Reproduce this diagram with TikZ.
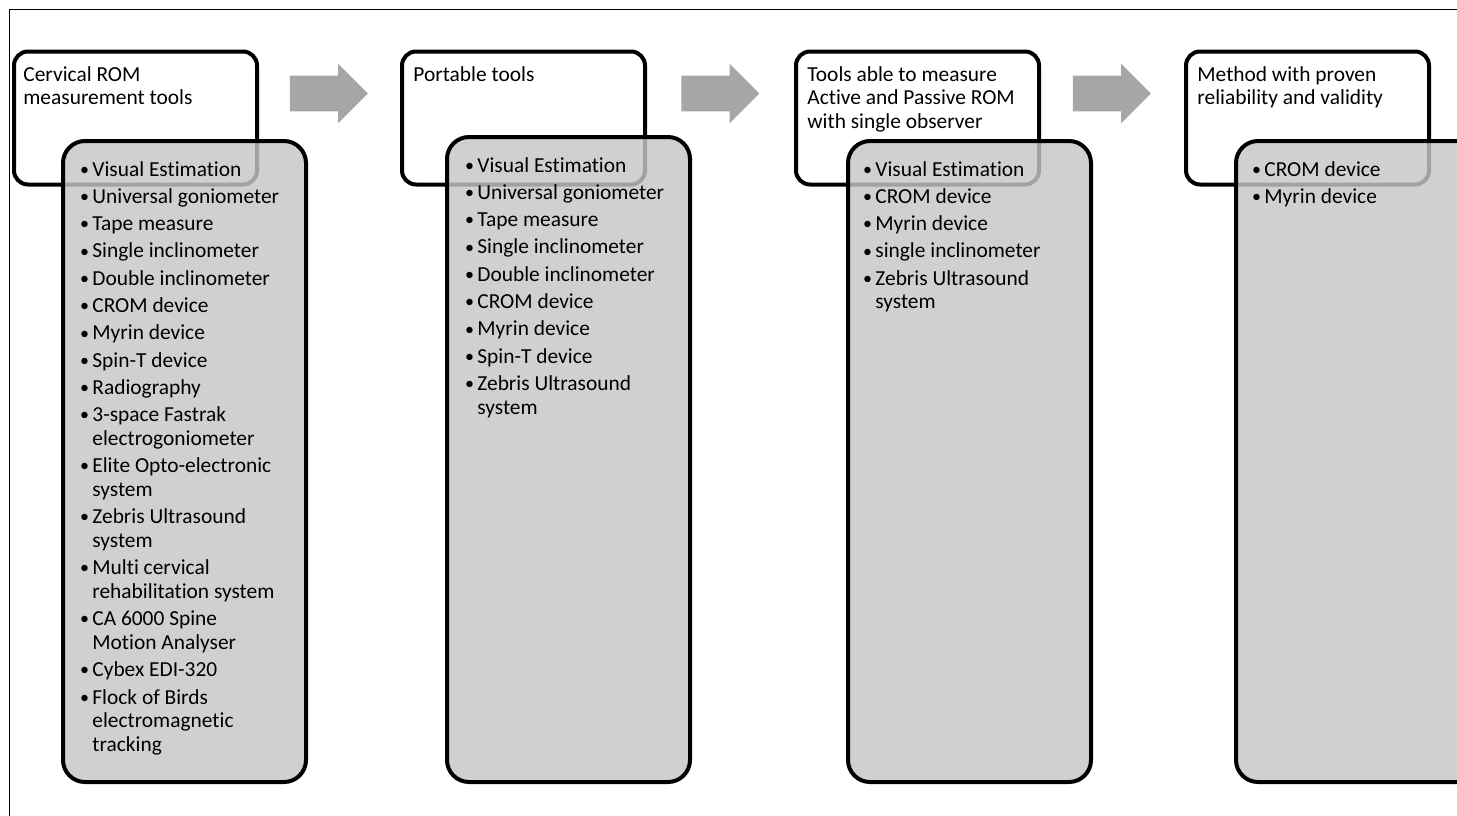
\documentclass[tikz,border=0pt]{standalone}
\usepackage{fontspec}
\setmainfont{Carlito}[Ligatures=NoCommon]
\usetikzlibrary{shapes.arrows}
\definecolor{boxgray}{RGB}{198,198,198}
\definecolor{arrgray}{RGB}{166,166,166}
\newcommand{\hdrfont}{\fontsize{10.7}{11.65}\selectfont}
\newcommand{\boxfont}{\fontsize{10.7}{11.85}\selectfont}
\newcommand{\bl}{\makebox[5pt][l]{\hspace{-1.2pt}\raisebox{0.4pt}{\fontsize{9}{9}\selectfont •}}}

\begin{document}
\begin{tikzpicture}[x=0.5pt, y=-0.5pt,
  hdr/.style={draw, line width=2pt, rounded corners=7pt, fill=white, minimum width=121.5pt, minimum height=66.5pt, anchor=north west, inner sep=0pt},
  lst/.style={draw, line width=2pt, rounded corners=11pt, fill=boxgray, fill opacity=0.82, minimum width=121.5pt, minimum height=320.5pt, anchor=north west, inner sep=0pt},
  txt/.style={anchor=base west, inner sep=0pt, font=\boxfont},
  flow/.style={single arrow, fill=arrgray, minimum height=39pt, single arrow head extend=6pt, inner sep=0pt, text height=8.75pt, text depth=8.75pt}
]
\clip (0,0) rectangle (1457,815);
\draw[line width=0.75pt] (9.5,9.5) rectangle (1500,900);
% arrows between the stages
\node (a1) [flow] at (320,93.5) {};
\node (a2) [flow] at (711.5,93.5) {};
\node (a3) [flow] at (1103,93.5) {};
% stage headers
\node (h1) [hdr] at (12,49.5) {};
\node (h2) [hdr] at (400,49.5) {};
\node (h3) [hdr] at (794,49.5) {};
\node (h4) [hdr] at (1184,49.5) {};
\node (t1) [txt, font=\hdrfont] at (23,81.5) {\begin{tabular}[t]{@{}l@{}}Cervical ROM\\measurement tools\end{tabular}};
\node (t2) [txt, font=\hdrfont] at (413,81.5) {\begin{tabular}[t]{@{}l@{}}Portable tools\end{tabular}};
\node (t3) [txt, font=\hdrfont] at (807,81.5) {\begin{tabular}[t]{@{}l@{}}Tools able to measure\\Active and Passive ROM\\with single observer\end{tabular}};
\node (t4) [txt, font=\hdrfont] at (1197,81.5) {\begin{tabular}[t]{@{}l@{}}Method with proven\\reliability and validity\end{tabular}};
% tool lists
\node (g1) [lst] at (61,139) {};
\node (g2) [lst, minimum height=322.5pt] at (445,135) {};
\node (g3) [lst] at (846,139) {};
\node (g4) [lst] at (1234,139) {};
\node (l1) [txt] at (82,176) {\begin{tabular}[t]{@{}l@{}l@{}}
  \bl & Visual Estimation\\[1.8pt]
  \bl & Universal goniometer\\[1.8pt]
  \bl & Tape measure\\[1.8pt]
  \bl & Single inclinometer\\[1.8pt]
  \bl & Double inclinometer\\[1.8pt]
  \bl & CROM device\\[1.8pt]
  \bl & Myrin device\\[1.8pt]
  \bl & Spin-T device\\[1.8pt]
  \bl & Radiography\\[1.8pt]
  \bl & 3-space Fastrak\\ & electrogoniometer\\[1.8pt]
  \bl & Elite Opto-electronic\\ & system\\[1.8pt]
  \bl & Zebris Ultrasound\\ & system\\[1.8pt]
  \bl & Multi cervical\\ & rehabilitation system\\[1.8pt]
  \bl & CA 6000 Spine\\ & Motion Analyser\\[1.8pt]
  \bl & Cybex EDI-320\\[1.8pt]
  \bl & Flock of Birds\\ & electromagnetic\\ & tracking
\end{tabular}};
\node (l2) [txt] at (467,172) {\begin{tabular}[t]{@{}l@{}l@{}}
  \bl & Visual Estimation\\[1.8pt]
  \bl & Universal goniometer\\[1.8pt]
  \bl & Tape measure\\[1.8pt]
  \bl & Single inclinometer\\[1.8pt]
  \bl & Double inclinometer\\[1.8pt]
  \bl & CROM device\\[1.8pt]
  \bl & Myrin device\\[1.8pt]
  \bl & Spin-T device\\[1.8pt]
  \bl & Zebris Ultrasound\\ & system
\end{tabular}};
\node (l3) [txt] at (865,176) {\begin{tabular}[t]{@{}l@{}l@{}}
  \bl & Visual Estimation\\[1.8pt]
  \bl & CROM device\\[1.8pt]
  \bl & Myrin device\\[1.8pt]
  \bl & single inclinometer\\[1.8pt]
  \bl & Zebris Ultrasound\\ & system
\end{tabular}};
\node (l4) [txt] at (1254,176) {\begin{tabular}[t]{@{}l@{}l@{}}
  \bl & CROM device\\[1.8pt]
  \bl & Myrin device
\end{tabular}};
\end{tikzpicture}
\end{document}
